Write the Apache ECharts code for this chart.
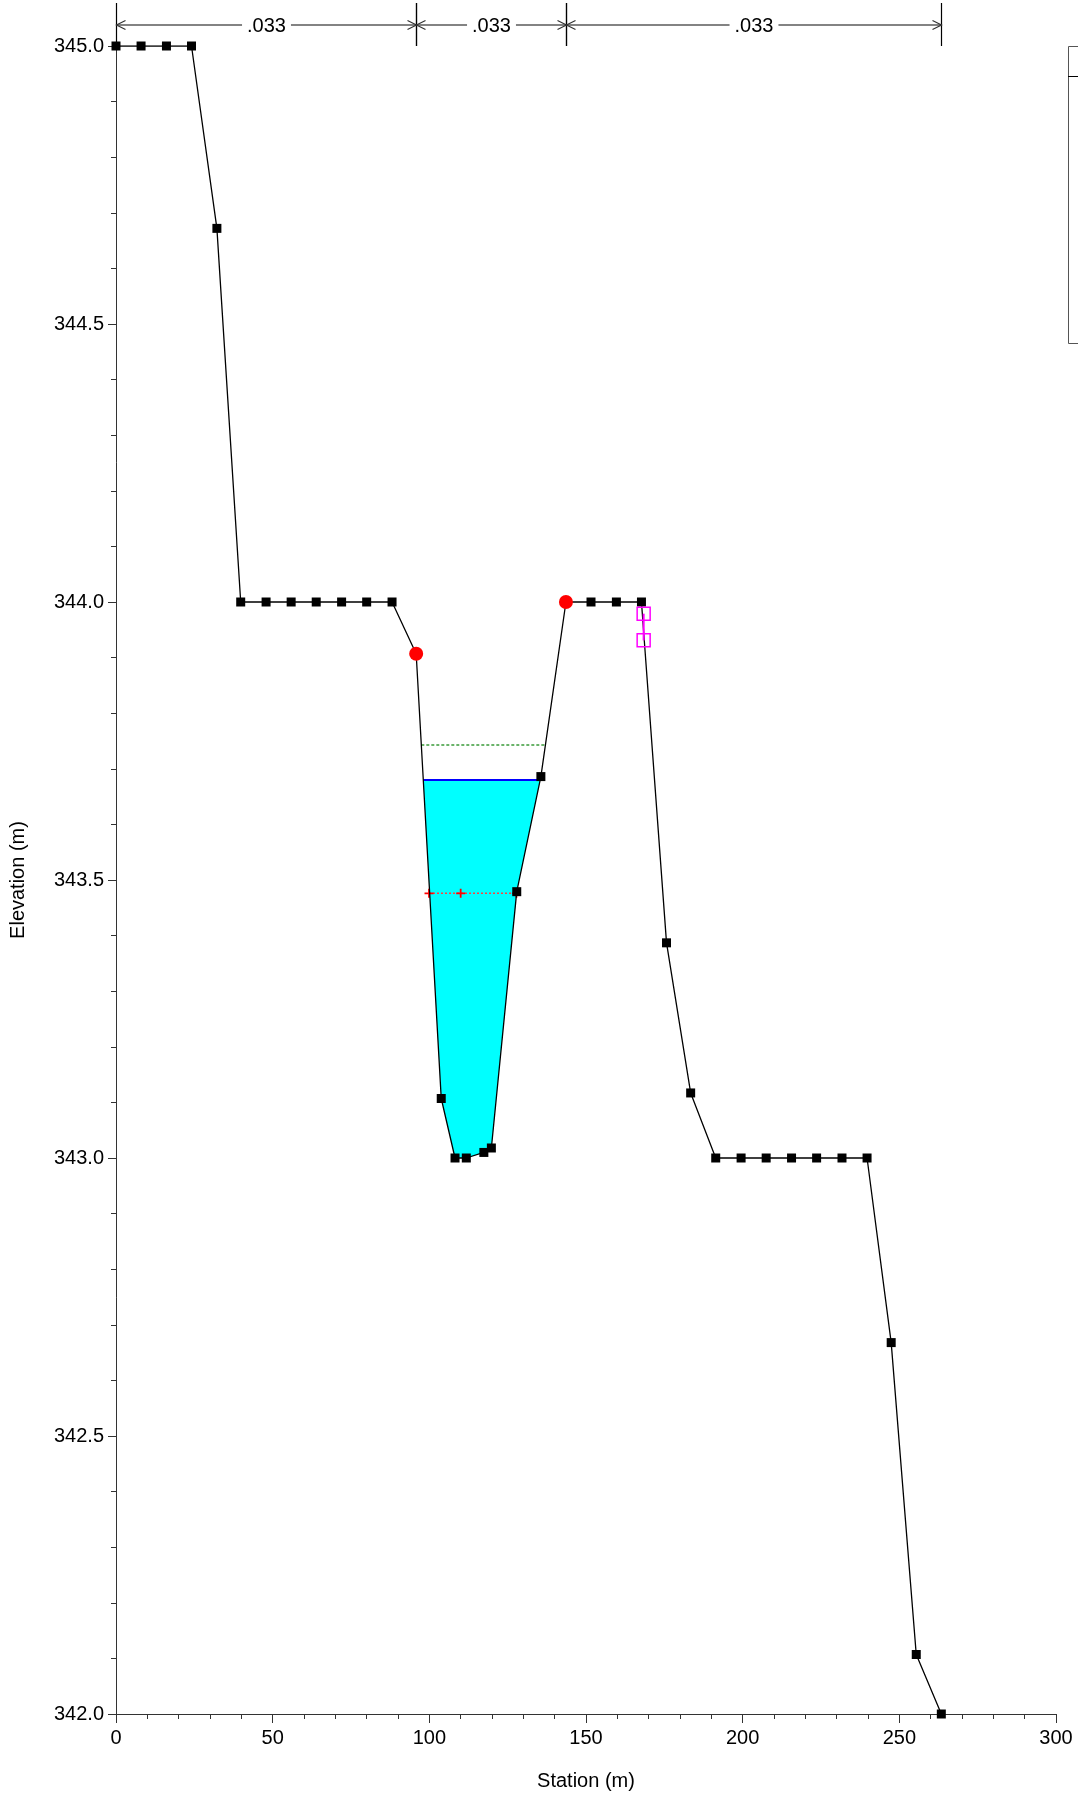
<!DOCTYPE html>
<html><head><meta charset="utf-8">
<script src="https://cdn.jsdelivr.net/npm/echarts@6/dist/echarts.min.js"></script>
<style>html,body{margin:0;padding:0;background:#fff}#c{width:1078px;height:1796px}</style>
</head><body><div id="c"></div>
<script>
// ---- data ----
const stations = [0, 8.0, 16.1, 24.1, 32.2, 39.8, 47.9, 55.9, 63.9, 72.0, 80.0, 88.1, 95.8,
  103.8, 108.2, 111.8, 117.4, 119.8, 127.9, 135.6, 143.6, 151.6, 159.7, 167.7, 175.7, 183.4,
  191.4, 199.5, 207.5, 215.6, 223.6, 231.7, 239.7, 247.4, 255.4, 263.4];
const elevations = [345.0, 345.0, 345.0, 345.0, 344.672, 344.0, 344.0, 344.0, 344.0, 344.0, 344.0, 344.0, 343.907,
  343.107, 343.0, 343.0, 343.010, 343.018, 343.479, 343.686, 344.0, 344.0, 344.0, 344.0, 343.387, 343.117,
  343.0, 343.0, 343.0, 343.0, 343.0, 343.0, 343.0, 342.668, 342.107, 342.0];
const bankStations = [95.8, 143.6];
const bankElevations = [343.907, 344.0];
const manningLabels = ['.033', '.033', '.033'];
const manningBreaks = [0, 95.8, 143.6, 263.4];
const wsElev = 343.68;
const egElev = 343.743;
const critElev = 343.476;
const critStations = [99.9, 110.0, 127.8];
const leveeStations = [168.4, 168.4];
const leveeElevations = [343.979, 343.931];
const xMin = 0, xMax = 300, xStep = 50;
const yMin = 342, yMax = 345, yStep = 0.5;

const FONT = 'Liberation Sans, Arial, sans-serif';

// crossings of a level with ground profile inside a station range
function crossings(level, from, to) {
  const pts = [];
  for (let i = 0; i < stations.length - 1; i++) {
    const x0 = stations[i], y0 = elevations[i], x1 = stations[i + 1], y1 = elevations[i + 1];
    if (x1 < from || x0 > to) continue;
    if ((y0 - level) * (y1 - level) < 0) {
      const t = (level - y0) / (y1 - y0);
      pts.push(x0 + t * (x1 - x0));
    }
  }
  return pts;
}
const wsX = crossings(wsElev, bankStations[0], bankStations[1]);
const wsL = wsX[0], wsR = wsX[wsX.length - 1];
const egX = crossings(egElev, bankStations[0], bankStations[1]);
const egL = egX[0], egR = egX[egX.length - 1];
const waterPoly = [[wsL, wsElev]];
stations.forEach((s, i) => { if (s > wsL && s < wsR) waterPoly.push([s, elevations[i]]); });
waterPoly.push([wsR, wsElev]);

const chart = echarts.init(document.getElementById('c'), null, {renderer: 'canvas'});
const axisCol = '#333';
chart.setOption({
  animation: false,
  backgroundColor: '#fff',
  textStyle: {fontFamily: FONT},
  grid: {left: 116, right: 22, top: 46, bottom: 82, containLabel: false},
  xAxis: {
    type: 'value', min: xMin, max: xMax, interval: xStep,
    name: 'Station (m)', nameLocation: 'middle', nameGap: 57,
    nameTextStyle: {fontSize: 20, color: '#000', fontFamily: FONT},
    axisLine: {onZero: false, lineStyle: {color: axisCol, width: 1}},
    axisTick: {length: 9, lineStyle: {color: axisCol}},
    minorTick: {show: true, splitNumber: 5, length: 5, lineStyle: {color: axisCol}},
    axisLabel: {fontSize: 20, color: '#000', margin: 14, fontFamily: FONT},
    splitLine: {show: false}, minorSplitLine: {show: false}
  },
  yAxis: {
    type: 'value', min: yMin, max: yMax, interval: yStep,
    name: 'Elevation (m)', nameLocation: 'middle', nameGap: 88,
    nameTextStyle: {fontSize: 20, color: '#000', fontFamily: FONT},
    axisLine: {onZero: false, lineStyle: {color: axisCol, width: 1}},
    axisTick: {length: 8, lineStyle: {color: axisCol}},
    minorTick: {show: true, splitNumber: 5, length: 5, lineStyle: {color: axisCol}},
    axisLabel: {fontSize: 20, color: '#000', margin: 12, fontFamily: FONT, formatter: v => v.toFixed(1)},
    splitLine: {show: false}, minorSplitLine: {show: false}
  },
  graphic: [
    {type: 'rect', shape: {x: 1068.5, y: 46.5, width: 40, height: 297}, style: {fill: 'none', stroke: '#555', lineWidth: 1}},
    {type: 'line', shape: {x1: 1068, y1: 76.5, x2: 1078, y2: 76.5}, style: {stroke: '#000', lineWidth: 1}}
  ],
  series: [
    { // water fill
      type: 'custom', coordinateSystem: 'cartesian2d', silent: true, z: 1,
      data: [[wsL, wsElev]],
      renderItem: (params, api) => ({
        type: 'polygon',
        shape: {points: waterPoly.map(p => api.coord(p))},
        style: {fill: '#00ffff', stroke: 'none'}
      })
    },
    { // water surface
      type: 'line', z: 3, silent: true, symbol: 'none',
      data: [[wsL, wsElev], [wsR, wsElev]],
      lineStyle: {color: '#0000ff', width: 2}
    },
    { // energy grade
      type: 'line', z: 3, silent: true, symbol: 'none',
      data: [[egL, egElev], [egR, egElev]],
      lineStyle: {color: '#3a9a3a', width: 1.5, type: [3, 2]}
    },
    { // critical
      type: 'line', z: 4, silent: true,
      data: critStations.map(s => [s, critElev]),
      symbol: 'path://M4,0H6V4H10V6H6V10H4V6H0V4H4Z', symbolSize: 9,
      itemStyle: {color: '#ff0000'},
      lineStyle: {color: '#ff4040', width: 1.5, type: [2, 2]}
    },
    { // ground
      type: 'line', z: 5, silent: true,
      data: stations.map((s, i) => [s, elevations[i]]),
      symbol: 'rect', symbolSize: 9,
      itemStyle: {color: '#000'},
      lineStyle: {color: '#000', width: 1.3}
    },
    { // bank stations
      type: 'scatter', z: 6, silent: true,
      data: bankStations.map((s, i) => [s, bankElevations[i]]),
      symbol: 'circle', symbolSize: 14,
      itemStyle: {color: '#ff0000', opacity: 1}
    },
    { // levee / markers
      type: 'line', z: 7, silent: true,
      data: leveeStations.map((s, i) => [s, leveeElevations[i]]),
      symbol: 'rect', symbolSize: 13,
      itemStyle: {color: 'rgba(0,0,0,0)', borderColor: '#ff00ff', borderWidth: 1.5},
      lineStyle: {color: '#ff00ff', width: 2}
    },
    { // manning n annotations
      type: 'custom', coordinateSystem: 'cartesian2d', silent: true, clip: false, z: 8,
      data: manningLabels.map((l, i) => [manningBreaks[i], manningBreaks[i + 1]]),
      encode: {x: [0, 1]},
      renderItem: (params, api) => {
        const a = api.coord([api.value(0), yMax]);
        const b = api.coord([api.value(1), yMax]);
        const top = a[1];
        const y = top - 21;
        const x0 = Math.round(a[0]) + 0.5, x1 = Math.round(b[0]) + 0.5;
        const g = '#5a5a5a';
        return {
          type: 'group',
          children: [
            {type: 'line', shape: {x1: x0, y1: top - 43, x2: x0, y2: top}, style: {stroke: '#000', lineWidth: 1.2}},
            {type: 'line', shape: {x1: x1, y1: top - 43, x2: x1, y2: top}, style: {stroke: '#000', lineWidth: 1.2}},
            {type: 'line', shape: {x1: x0, y1: y, x2: x1, y2: y}, style: {stroke: g, lineWidth: 1.3}},
            {type: 'polyline', shape: {points: [[x0 + 9, y - 4.5], [x0, y], [x0 + 9, y + 4.5]]}, style: {stroke: '#333', lineWidth: 1.2, fill: 'none'}},
            {type: 'polyline', shape: {points: [[x1 - 9, y - 4.5], [x1, y], [x1 - 9, y + 4.5]]}, style: {stroke: '#333', lineWidth: 1.2, fill: 'none'}},
            {type: 'text', x: (x0 + x1) / 2, y: y + 1,
              style: {text: manningLabels[params.dataIndex], font: '20px ' + FONT, fill: '#000',
                align: 'center', verticalAlign: 'middle', backgroundColor: '#fff', padding: [0, 5]}}
          ]
        };
      }
    }
  ]
});
</script>
</body></html>
